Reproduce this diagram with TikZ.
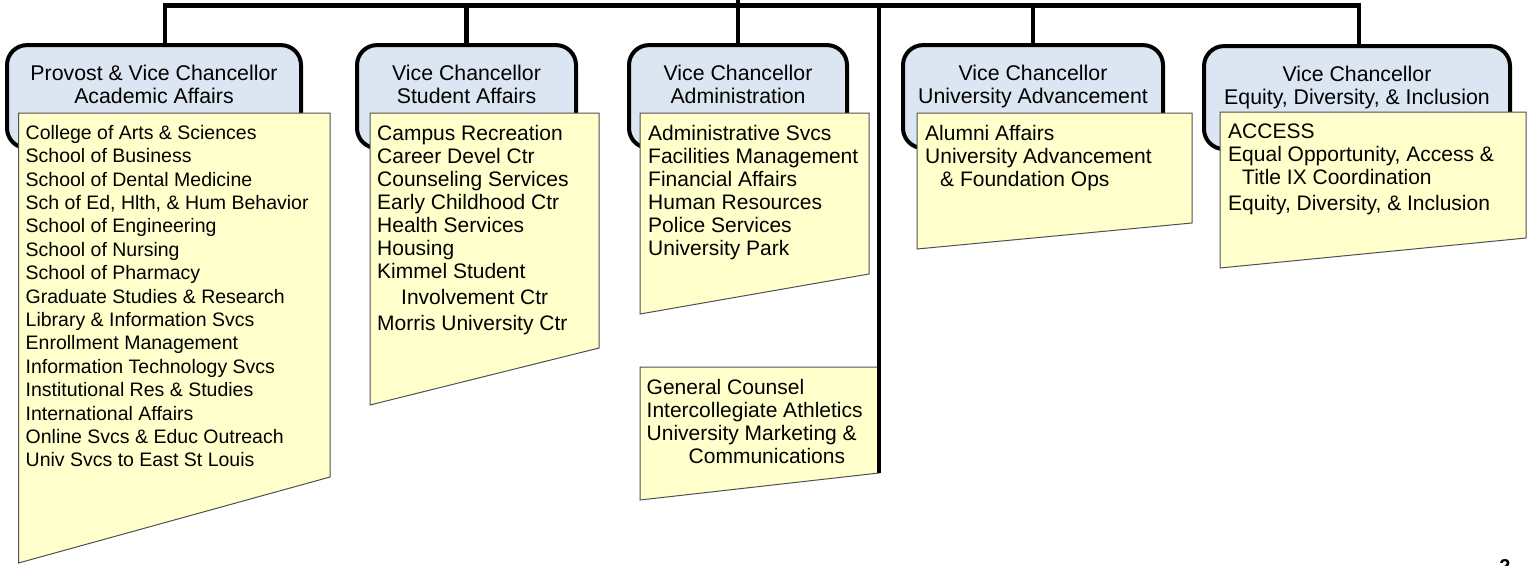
\documentclass[tikz,border=0pt]{standalone}
\usepackage{fontspec}
\setmainfont{Liberation Sans}
\usetikzlibrary{positioning}
\definecolor{vcblue}{HTML}{DCE6F2}
\definecolor{unityellow}{HTML}{FFFFCC}
\definecolor{unitedge}{HTML}{505050}
\tikzset{
  vcbox/.style={draw, line width=4pt, fill=vcblue, rounded corners=20pt, inner sep=0pt},
  vctitle/.style={align=center, inner sep=0pt, anchor=north, font=\fontsize{21.3}{23}\selectfont},
  unitbox/.style={draw=unitedge, line width=1pt, fill=unityellow},
  unitlist/.style={align=left, inner sep=0pt, anchor=north west, font=\fontsize{21}{23}\selectfont},
  link/.style={line width=4.5pt}
}
\begin{document}
\begin{tikzpicture}[x=1pt, y=-1pt]
    \useasboundingbox (0,0) rectangle (1531,565);

    % vice chancellors
    \node[vcbox, minimum width=294pt, minimum height=103pt] (acad) at (154,96.6) {};
    \node[vcbox, minimum width=219pt, minimum height=103pt] (stud) at (466.5,96.6) {};
    \node[vcbox, minimum width=218pt, minimum height=103pt] (admin) at (738,96.6) {};
    \node[vcbox, minimum width=260pt, minimum height=103pt] (adv) at (1033,96.6) {};
    \node[vcbox, minimum width=306pt, minimum height=103pt] (equ) at (1357,97.6) {};
    \node[vctitle] (acad-t) at ([yshift=-22pt]acad.north) {Provost \& Vice Chancellor\\Academic Affairs};
    \node[vctitle] (stud-t) at ([yshift=-22pt]stud.north) {Vice Chancellor\\Student Affairs};
    \node[vctitle] (admin-t) at ([yshift=-22pt]admin.north) {Vice Chancellor\\Administration};
    \node[vctitle] (adv-t) at ([yshift=-22pt]adv.north) {Vice Chancellor\\University Advancement};
    \node[vctitle] (equ-t) at ([yshift=-22pt]equ.north) {Vice Chancellor\\Equity, Diversity, \& Inclusion};

    % units
    \draw[unitbox] (18.5,113) -- (330,113) -- (330,477) -- (18.5,563) -- cycle;
    \draw[unitbox] (370,113) -- (599,113) -- (599,348) -- (370,405) -- cycle;
    \draw[unitbox] (640,113) -- (869,113) -- (869,274) -- (640,314) -- cycle;
    \draw[unitbox] (640,367) -- (879,367) -- (879,473) -- (640,500) -- cycle;
    \draw[unitbox] (917,113) -- (1192,113) -- (1192,223) -- (917,249) -- cycle;
    \draw[unitbox] (1220,112) -- (1526,112) -- (1526,238) -- (1220,268) -- cycle;

    \node[unitlist, font=\fontsize{19.5}{23.4}\selectfont] (acad-l) at (25.5,125) {College of Arts \& Sciences\\School of Business\\School of Dental Medicine\\Sch of Ed, Hlth, \& Hum Behavior\\School of Engineering\\School of Nursing\\School of Pharmacy\\Graduate Studies \& Research\\Library \& Information Svcs\\Enrollment Management\\Information Technology Svcs\\Institutional Res \& Studies\\International Affairs\\Online Svcs \& Educ Outreach\\Univ Svcs to East St Louis};
    \node[unitlist] (stud-l) at (377,125.4) {Campus Recreation\\Career Devel Ctr\\Counseling Services\\Early Childhood Ctr\\Health Services\\Housing\\Kimmel Student\\[3pt]\hspace*{24pt}Involvement Ctr\\[3pt]Morris University Ctr};
    \node[unitlist] (admin-l) at (648,125.4) {Administrative Svcs\\Facilities Management\\Financial Affairs\\Human Resources\\Police Services\\University Park};
    \node[unitlist] (gc-l) at (646.5,379.4) {General Counsel\\Intercollegiate Athletics\\University Marketing \&\\\hspace*{42pt}Communications};
    \node[unitlist] (adv-l) at (925,125.4) {Alumni Affairs\\University Advancement\\\hspace*{15pt}\& Foundation Ops};
    \node[unitlist] (equ-l) at (1228,124) {ACCESS\\Equal Opportunity, Access \&\\\hspace*{14pt}Title IX Coordination\\[3pt]Equity, Diversity, \& Inclusion};

    % lines
    \coordinate (bar) at (738,5.5);
    \coordinate (top) at (738,-5);
    \coordinate (acad-top) at ([xshift=11pt]acad.north);
    \coordinate (equ-top) at ([xshift=2pt]equ.north);
    \coordinate (gc-end) at (879,473);
    \draw[link] (acad-top) |- (equ-top |- bar) -- (equ-top);
    \foreach \v in {stud, admin, adv} {
        \draw[link] (\v.north) -- (\v.north |- bar);
      }
    \draw[link] (bar) -- (top);
    \draw[link] (gc-end |- bar) -- (gc-end);

    \node[inner sep=0pt, anchor=north, font=\bfseries\fontsize{20}{20}\selectfont] (page) at (1505,559) {2};
  \end{tikzpicture}
\end{document}
